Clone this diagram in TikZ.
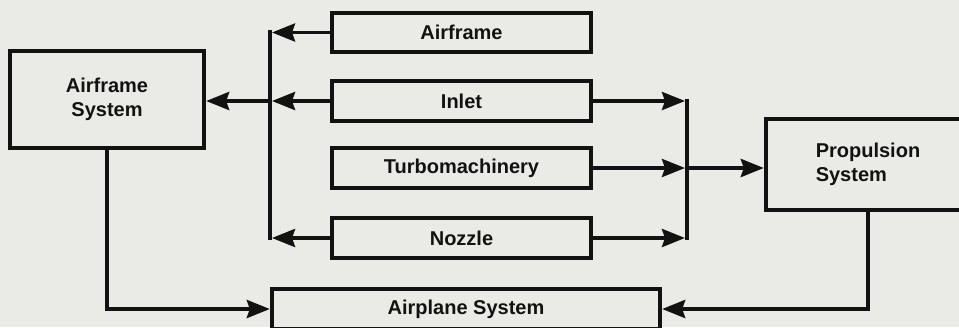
\documentclass[tikz,border=0pt]{standalone}
\usepackage{fontspec}
\setmainfont{Liberation Sans}
\usetikzlibrary{arrows.meta}
\definecolor{paper}{RGB}{234,234,230}
\definecolor{ink}{RGB}{18,18,18}
\begin{document}
\begin{tikzpicture}[x=1pt,y=-1pt,
  box/.style={draw=ink, line width=4.3pt, fill=paper, text=ink, inner sep=0pt,
    font=\fontsize{20}{24}\selectfont\bfseries},
  conn/.style={draw=ink, line width=3.8pt},
  bus/.style={conn, line width=4.3pt, line cap=rect},
  arr/.style={conn, -{Stealth[length=23pt,width=18pt,inset=3pt]}},
  tobus/.style={arr, shorten >=2pt},
]
\useasboundingbox (0,0) rectangle (959,327);
\fill[paper] (0,0) rectangle (959,327);
\begin{scope}
\clip (0,0) rectangle (959,327);
\node[box, minimum width=194pt, minimum height=97pt, align=center] (AS) at (107,99.5) {Airframe\\System};
\node[box, minimum width=259pt, minimum height=39pt] (AF) at (461.5,32.5) {Airframe};
\node[box, minimum width=259pt, minimum height=40pt] (IN) at (461.5,101) {Inlet};
\node[box, minimum width=259pt, minimum height=40pt] (TU) at (461.5,168) {Turbomachinery};
\node[box, minimum width=259pt, minimum height=40pt] (NO) at (461.5,238) {Nozzle};
\node[box, minimum width=204pt, minimum height=91pt, align=left] (PS) at (868,164.5) {Propulsion\\System};
\node[box, minimum width=388pt, minimum height=40pt] (AP) at (466,309) {Airplane System};
\coordinate (lb) at (270,0);
\coordinate (rb) at (687,0);
\draw[bus] (AF.west -| lb) -- (NO.west -| lb);
\draw[tobus] (AF.west) -- (AF.west -| lb);
\draw[tobus] (IN.west) -- (IN.west -| lb);
\draw[arr] (IN.west -| lb) -- (IN.west -| AS.east);
\draw[tobus] (NO.west) -- (NO.west -| lb);
\draw[bus] (IN.east -| rb) -- (NO.east -| rb);
\draw[tobus] (IN.east) -- (IN.east -| rb);
\draw[tobus] (TU.east) -- (TU.east -| rb);
\draw[tobus] (NO.east) -- (NO.east -| rb);
\draw[arr] (TU.east -| rb) -- (TU.east -| PS.west);
\draw[arr] (AS.south) |- (AP.west);
\draw[arr] (PS.south) |- (AP.east);
\end{scope}
\end{tikzpicture}
\end{document}
